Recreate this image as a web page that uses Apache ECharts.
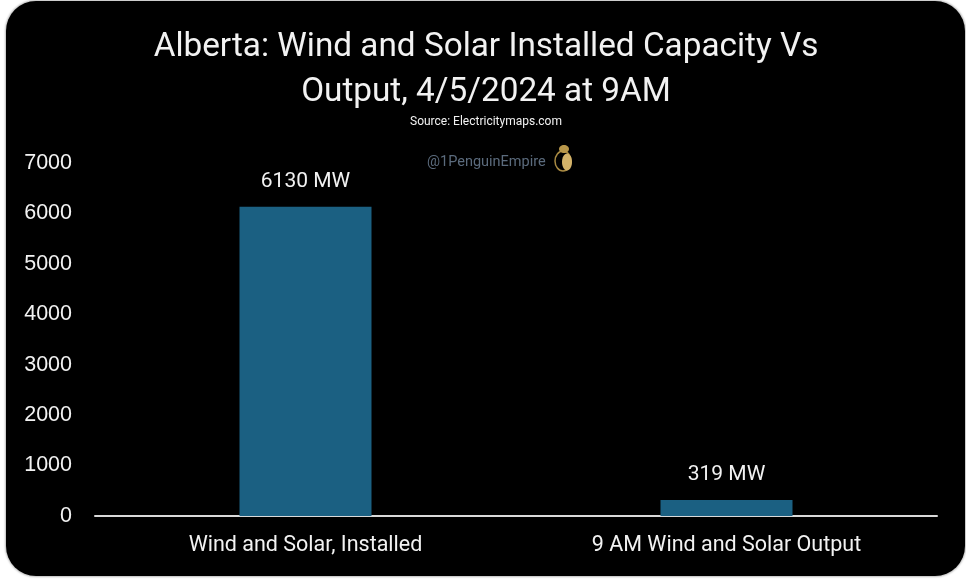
<!DOCTYPE html>
<html>
<head>
<meta charset="utf-8">
<style>
  html, body { margin: 0; padding: 0; background: #fff; }
  #card {
    position: absolute; left: 6px; top: 1px; width: 959px; height: 575px;
    background: #000; border-radius: 30px; overflow: hidden;
    box-shadow: 0 0 2px 1px #bbb;
  }
  #chart { width: 966px; height: 582px; position: absolute; left: 0; top: 0; }
</style>
<script src="https://cdn.jsdelivr.net/npm/echarts@6/dist/echarts.min.js"></script>
</head>
<body>
<div id="card"></div>
<div id="chart"></div>
<script>
const categories = ["Wind and Solar, Installed", "9 AM Wind and Solar Output"];
const values = [6130, 319];
const yTicks = { min: 0, max: 7000, interval: 1000 };
const titleLines = "Alberta: Wind and Solar Installed Capacity Vs\nOutput, 4/5/2024 at 9AM";
const sourceText = "Source: Electricitymaps.com";
const watermark = "@1PenguinEmpire";

const myChart = echarts.init(document.getElementById("chart"));
const fontFamily = "Roboto, sans-serif";

const option = {
  backgroundColor: "transparent",
  animation: false,
  title: [
    {
      text: titleLines,
      left: 486, top: 25, textAlign: "center", padding: 0,
      textStyle: { color: "#f2f2f2", fontSize: 33.3, fontWeight: 400, lineHeight: 45, fontFamily },
    },
    {
      text: sourceText,
      left: 486, top: 116, textAlign: "center", padding: 0,
      textStyle: { color: "#f2f2f2", fontSize: 12, fontWeight: 400, fontFamily },
    },
    {
      text: watermark,
      left: 427, top: 155, padding: 0,
      textStyle: { color: "#5b6b7d", fontSize: 14.5, fontWeight: 400, fontFamily },
    },
  ],
  grid: { left: 95, right: 29, top: 163, bottom: 66 },
  xAxis: {
    type: "category",
    data: categories,
    axisTick: { show: false },
    axisLine: { lineStyle: { color: "#d9d9d9", width: 2 } },
    axisLabel: { color: "#f2f2f2", fontSize: 21.5, margin: 19, fontFamily },
  },
  yAxis: {
    type: "value",
    min: yTicks.min,
    max: yTicks.max,
    interval: yTicks.interval,
    splitLine: { show: false },
    axisLine: { show: false },
    axisTick: { show: false },
    axisLabel: {
      color: "#f2f2f2",
      fontSize: 21.5,
      margin: 23,
      fontFamily: "'Liberation Sans', Arial, sans-serif",
      formatter: (v) => String(v),
    },
  },
  series: [
    {
      type: "bar",
      data: values,
      barWidth: 132,
      itemStyle: { color: "#1b6082" },
      label: {
        show: true,
        position: "top",
        distance: 15,
        color: "#f2f2f2",
        fontSize: 21,
        fontFamily,
        formatter: (p) => p.value + " MW",
      },
    },
  ],
  // small penguin mark beside the watermark
  graphic: [
    { type: "ellipse", shape: { cx: 563, cy: 161, rx: 8, ry: 10 }, style: { fill: "none", stroke: "#a98a42", lineWidth: 1.5 } },
    { type: "ellipse", shape: { cx: 567, cy: 162, rx: 5, ry: 8.5 }, style: { fill: "#d4b36a" } },
    { type: "ellipse", shape: { cx: 564, cy: 149, rx: 5, ry: 4 }, style: { fill: "#b8974a" } },
  ],
};

myChart.setOption(option);
</script>
</body>
</html>
